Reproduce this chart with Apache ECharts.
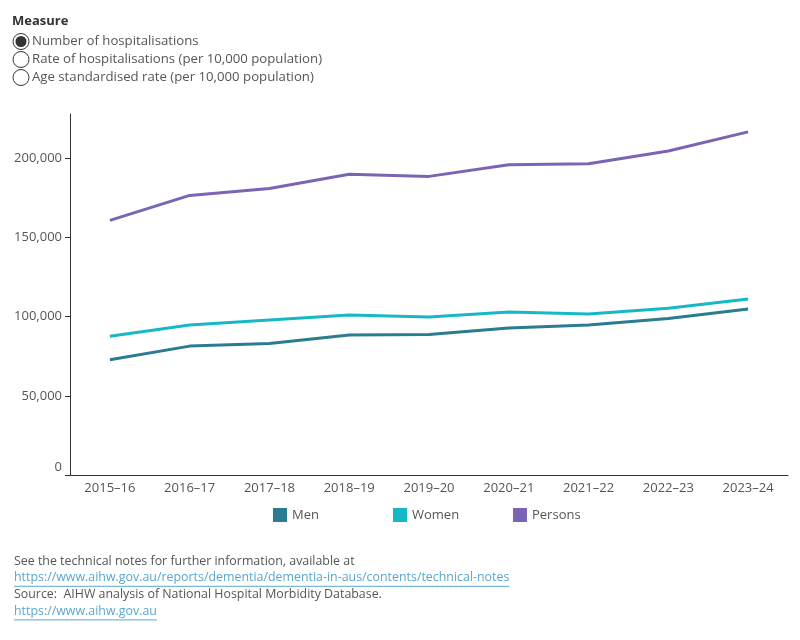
<!DOCTYPE html>
<html>
<head>
<meta charset="utf-8">
<script src="https://cdn.jsdelivr.net/npm/echarts@6/dist/echarts.min.js"></script>
<style>
  html, body { margin: 0; padding: 0; background: #fff; }
  #chart { width: 800px; height: 640px; }
</style>
</head>
<body>
<div id="chart"></div>
<script>
const years = ['2015–16', '2016–17', '2017–18', '2018–19', '2019–20', '2020–21', '2021–22', '2022–23', '2023–24']
const men = [72800, 81400, 83100, 88400, 88800, 92800, 94700, 98900, 104900]
const women = [87600, 94700, 97900, 101000, 99800, 103000, 101700, 105300, 111200]
const persons = [160800, 176600, 181000, 189900, 188600, 196000, 196600, 204600, 216700]
const seriesNames = ['Men', 'Women', 'Persons']
const measures = ['Number of hospitalisations', 'Rate of hospitalisations (per 10,000 population)', 'Age standardised rate (per 10,000 population)']
const notes = [
  { text: 'See the technical notes for further information, available at', link: false },
  { text: 'https://www.aihw.gov.au/reports/dementia/dementia-in-aus/contents/technical-notes', link: true },
  { text: 'Source:  AIHW analysis of National Hospital Morbidity Database.', link: false },
  { text: 'https://www.aihw.gov.au', link: true }
]

const font = '"Open Sans", Lato, sans-serif'
const grey = '#555'
const linkColor = '#5aa6cf'
const noteSize = '12.4px '

const chart = echarts.init(document.getElementById('chart'))

// measure text for link underlines
const ctx = document.createElement('canvas').getContext('2d')
ctx.font = noteSize + font

const graphics = [{
  type: 'text', left: 12, top: 15,
  style: { text: 'Measure', font: 'bold 13px ' + font, fill: '#333', verticalAlign: 'top' }
}]
measures.forEach((m, i) => {
  const cy = 41.5 + i * 18
  graphics.push({
    type: 'circle', shape: { cx: 21, cy: cy, r: 8 },
    style: { fill: '#fff', stroke: '#333', lineWidth: 1 }
  })
  if (i === 0) {
    graphics.push({
      type: 'circle', shape: { cx: 21, cy: cy, r: 5.5 },
      style: { fill: '#333' }
    })
  }
  graphics.push({
    type: 'text', x: 32, y: cy,
    style: { text: m, font: '13.2px ' + font, fill: grey, verticalAlign: 'middle' }
  })
})
notes.forEach((n, i) => {
  const y = 561 + i * 16.8
  graphics.push({
    type: 'text', x: 14, y: y,
    style: { text: n.text, font: noteSize + font, fill: n.link ? linkColor : grey, verticalAlign: 'middle' }
  })
  if (n.link) {
    const w = ctx.measureText(n.text).width
    graphics.push({
      type: 'line', shape: { x1: 14, y1: y + 8.5, x2: 14 + w, y2: y + 8.5 },
      style: { stroke: linkColor, lineWidth: 1 }
    })
  }
})

const legends = seriesNames.map((name, i) => ({
  left: 273 + i * 120, top: 508, padding: 0,
  icon: 'rect', itemWidth: 14, itemHeight: 14,
  textStyle: { color: grey, fontSize: 13 },
  data: [name]
}))

chart.setOption({
  animation: false,
  textStyle: { fontFamily: font },
  color: ['#2b7b91', '#16b8c6', '#7b64b4'],
  grid: { left: 70, right: 12, top: 114, bottom: 165 },
  legend: legends,
  xAxis: {
    type: 'category',
    data: years,
    boundaryGap: true,
    axisLine: { lineStyle: { color: '#333' } },
    axisTick: { length: 5, lineStyle: { color: '#333' } },
    axisLabel: { color: grey, fontSize: 13, margin: 7 }
  },
  yAxis: {
    type: 'value',
    min: 0, max: 228000, interval: 50000,
    splitLine: { show: false },
    axisLine: { show: true, lineStyle: { color: '#333' } },
    axisTick: { show: true, length: 5, lineStyle: { color: '#333' } },
    axisLabel: {
      color: grey, fontSize: 13, margin: 8, showMaxLabel: false,
      formatter: v => v === 0 ? '{z|0}' : v.toLocaleString('en-US'),
      rich: { z: { color: grey, fontSize: 13, padding: [0, 0, 16, 0] } }
    }
  },
  series: [
    { name: 'Men', type: 'line', data: men, showSymbol: false, lineStyle: { width: 3 } },
    { name: 'Women', type: 'line', data: women, showSymbol: false, lineStyle: { width: 3 } },
    { name: 'Persons', type: 'line', data: persons, showSymbol: false, lineStyle: { width: 3 } }
  ],
  graphic: graphics
})
</script>
</body>
</html>
